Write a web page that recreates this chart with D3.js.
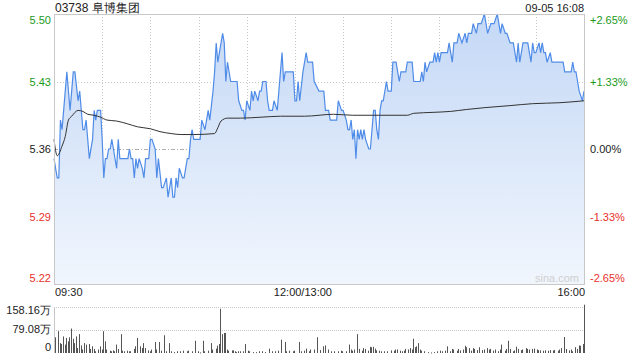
<!DOCTYPE html>
<html>
<head>
<meta charset="utf-8">
<script src="https://cdn.jsdelivr.net/npm/d3@7"></script>
<style>
  body { margin: 0; background: #fff; }
  svg text { font-family: "Liberation Sans", Arial, sans-serif; }
</style>
</head>
<body>
<div id="chart"></div>
<script>
// 03738 阜博集团, 09-05 分时
const stockName = '03738 阜博集团';
const stamp = '09-05 16:08';
const prevClose = 5.36;

// minutes of trading since 09:30 (150 = 12:00/13:00, 330 = 16:00)
const priceMin = [0,2,3,4,5,7,8,10,11,12,13,15,16,17,18,19,20,22,24,25,26,27,29,30,31,32,33,34,35,36,37,39,40,41,46,47,48,49,50,51,52,53,55,56,57,59,60,61,63,64,65,67,68,70,71,73,74,75,76,77,78,80,81,83,84,85,86,87,91,92,94,95,96,97,99,100,101,102,104,105,106,107,108,110,114,115,117,118,119,120,122,123,124,125,127,128,129,130,132,133,134,136,137,139,140,142,143,144,149,150,151,152,153,155,157,158,161,162,165,168,169,171,172,176,177,179,180,182,183,184,185,186,187,188,189,190,191,192,193,194,196,197,198,199,200,201,202,203,204,205,207,208,210,211,213,214,215,216,219,220,223,224,228,229,230,231,232,234,236,237,238,239,240,241,245,246,248,249,251,252,254,256,257,258,260,261,263,264,266,268,269,270,272,274,276,277,278,279,281,282,284,286,287,288,289,290,291,292,295,296,297,298,299,300,302,303,304,305,306,307,309,310,317,318,322,323,324,325,326,327,329,330];
const price = [5.35,5.33,5.33,5.39,5.38,5.42,5.44,5.40,5.42,5.44,5.44,5.41,5.42,5.40,5.38,5.38,5.39,5.35,5.37,5.40,5.39,5.40,5.40,5.37,5.33,5.35,5.35,5.36,5.36,5.37,5.36,5.34,5.37,5.35,5.35,5.36,5.35,5.35,5.33,5.35,5.34,5.35,5.34,5.33,5.35,5.35,5.37,5.37,5.36,5.33,5.35,5.32,5.32,5.33,5.31,5.33,5.31,5.31,5.33,5.32,5.34,5.33,5.33,5.35,5.35,5.37,5.38,5.37,5.37,5.39,5.38,5.39,5.40,5.39,5.42,5.44,5.47,5.45,5.47,5.48,5.47,5.43,5.45,5.43,5.43,5.41,5.40,5.40,5.39,5.41,5.40,5.42,5.41,5.42,5.41,5.42,5.42,5.43,5.43,5.41,5.40,5.40,5.41,5.40,5.42,5.46,5.43,5.44,5.44,5.41,5.41,5.43,5.41,5.44,5.46,5.45,5.45,5.43,5.42,5.42,5.40,5.40,5.39,5.39,5.41,5.40,5.40,5.39,5.38,5.38,5.39,5.37,5.38,5.35,5.38,5.37,5.38,5.37,5.38,5.37,5.36,5.36,5.38,5.40,5.40,5.38,5.37,5.40,5.41,5.41,5.43,5.42,5.42,5.45,5.45,5.44,5.43,5.44,5.44,5.45,5.45,5.43,5.43,5.44,5.43,5.45,5.44,5.45,5.45,5.46,5.45,5.46,5.45,5.46,5.46,5.47,5.45,5.47,5.47,5.48,5.47,5.48,5.47,5.48,5.48,5.49,5.48,5.49,5.49,5.50,5.49,5.48,5.49,5.49,5.50,5.49,5.48,5.49,5.48,5.48,5.47,5.47,5.46,5.45,5.47,5.45,5.46,5.47,5.47,5.46,5.45,5.47,5.46,5.46,5.47,5.46,5.47,5.46,5.46,5.45,5.46,5.45,5.45,5.44,5.44,5.45,5.44,5.44,5.43,5.42,5.41,5.42];

// 均价
const avgMin = [0,2,5,7,9,11,15,18,21,25,29,33,39,46,52,60,66,73,79,87,100,102,104,108,116,129,141,156,174,186,203,220,224,236,247,257,269,284,298,315,330];
const avgPrice = [5.370,5.353,5.363,5.373,5.390,5.394,5.400,5.399,5.396,5.395,5.393,5.390,5.389,5.386,5.383,5.381,5.378,5.376,5.375,5.375,5.376,5.382,5.389,5.392,5.392,5.393,5.394,5.394,5.396,5.395,5.395,5.395,5.397,5.398,5.399,5.401,5.403,5.405,5.407,5.408,5.410];

// 成交量 (万股)
const volMin = [0,2,3,4,5,6,7,8,9,10,11,12,13,14,15,16,17,18,19,21,22,23,24,25,27,28,29,30,31,32,34,35,36,37,38,39,41,42,43,45,46,47,49,50,51,53,54,55,56,58,59,60,62,63,65,66,68,69,71,72,74,76,78,80,82,83,85,87,89,90,92,93,95,97,98,100,101,102,103,104,105,106,107,108,110,111,112,113,114,115,117,118,120,121,123,125,127,129,131,133,135,137,139,141,143,144,146,148,149,152,153,155,156,158,159,161,163,165,167,168,170,172,174,176,178,179,181,183,184,185,186,188,189,191,192,193,195,196,197,198,199,200,202,203,205,207,209,211,212,213,215,216,217,218,220,221,222,223,224,225,226,227,228,230,232,234,236,238,240,241,243,244,246,247,248,250,251,252,254,255,256,258,259,260,261,263,264,266,267,269,270,271,273,274,276,277,278,280,281,282,283,285,286,287,288,290,291,293,294,295,297,298,300,301,302,304,305,307,308,310,311,313,314,315,317,318,320,321,322,324,325,326,327,329,330];
const vol = [54,75,34,31,57,29,52,40,54,84,49,34,57,17,65,26,12,34,29,31,14,23,14,6,12,23,12,75,40,12,8,6,9,6,29,14,65,8,6,8,6,6,14,23,52,23,17,34,17,9,6,12,38,12,38,8,61,6,34,6,3,6,6,8,6,8,6,42,6,2,42,6,8,34,12,15,25,31,152,65,69,69,12,8,9,9,6,3,6,6,6,31,8,6,3,3,6,6,3,15,6,6,8,46,38,6,8,6,8,38,6,8,15,6,12,12,54,10,23,26,12,6,6,6,8,6,6,29,12,8,12,65,14,8,17,14,8,21,20,21,15,9,8,6,6,6,9,8,12,12,8,6,8,14,12,17,12,49,20,23,34,12,8,6,3,2,3,6,8,6,8,23,6,14,12,8,14,9,12,25,20,17,8,17,14,10,20,10,12,17,12,14,8,12,6,12,29,8,14,42,14,6,9,22,14,10,12,17,14,12,14,15,12,10,9,8,9,8,10,9,10,8,12,17,55,14,9,12,6,20,14,26,25,31,166];

const leftTicks = [5.50, 5.43, 5.36, 5.29, 5.22];
const rightTicks = ['+2.65%', '+1.33%', '0.00%', '-1.33%', '-2.65%'];
const timeLabels = ['09:30', '12:00/13:00', '16:00'];
const volTicks = [158.16, 79.08, 0];

const W = 640, H = 360;
const L = 54, R = 584, T = 14, B = 284;
const VT = 307, VB = 353;

const svg = d3.select('#chart').append('svg')
  .attr('width', W).attr('height', H);

const x = d3.scaleLinear().domain([0, 330]).range([L, R]);
const y = d3.scaleLinear().domain([5.22, 5.50]).range([B, T]);
const yv = d3.scaleLinear().domain([0, 158.16]).range([VB, VT]);

const up = '#1a9a1a', down = '#e8302a', flat = '#222';
const tickColor = v => v > prevClose + 1e-9 ? up : (v < prevClose - 1e-9 ? down : flat);

// gradient
const grad = svg.append('defs').append('linearGradient')
  .attr('id', 'fillGrad').attr('gradientUnits', 'userSpaceOnUse')
  .attr('x1', 0).attr('x2', 0).attr('y1', T).attr('y2', B);
grad.append('stop').attr('offset', 0).attr('stop-color', '#c4d8f6');
grad.append('stop').attr('offset', 1).attr('stop-color', '#f1f6fd');

// vertical grid, every 30 min
const vGrid = d3.range(30, 330, 30);
svg.append('g').selectAll('line').data(vGrid).enter().append('line')
  .attr('x1', d => Math.round(x(d)) + 0.5).attr('x2', d => Math.round(x(d)) + 0.5)
  .attr('y1', T).attr('y2', B)
  .attr('stroke', '#c8c8c8').attr('stroke-dasharray', '1,2');

// horizontal grid
svg.append('g').selectAll('line').data(leftTicks.slice(1, -1)).enter().append('line')
  .attr('x1', L).attr('x2', R)
  .attr('y1', d => Math.round(y(d)) + 0.5).attr('y2', d => Math.round(y(d)) + 0.5)
  .attr('stroke', d => d === prevClose ? '#b0b0b0' : '#c8c8c8')
  .attr('stroke-dasharray', d => d === prevClose ? '4,2,1,2' : '1,2');

const pts = priceMin.map((m, i) => [m, price[i]]);

svg.append('path').datum(pts)
  .attr('fill', 'url(#fillGrad)')
  .attr('d', d3.area().x(d => x(d[0])).y0(B).y1(d => y(d[1])));

svg.append('path').datum(pts)
  .attr('fill', 'none').attr('stroke', '#4f8ce8').attr('stroke-width', 1.2)
  .attr('d', d3.line().x(d => x(d[0])).y(d => y(d[1])));

svg.append('path').datum(avgMin.map((m, i) => [m, avgPrice[i]]))
  .attr('fill', 'none').attr('stroke', '#333').attr('stroke-width', 1)
  .attr('d', d3.line().curve(d3.curveMonotoneX).x(d => x(d[0])).y(d => y(d[1])));

// frame
svg.append('rect').attr('x', L + 0.5).attr('y', T + 0.5)
  .attr('width', R - L).attr('height', B - T)
  .attr('fill', 'none').attr('stroke', '#c8c8c8');

// watermark
svg.append('text').attr('x', 579).attr('y', 282).attr('text-anchor', 'end')
  .attr('font-size', 11).attr('fill', '#cfcfcf').text('sina.com');

// left labels
svg.append('g').selectAll('text').data(leftTicks).enter().append('text')
  .attr('x', 51).attr('text-anchor', 'end')
  .attr('y', (d, i) => y(d) + (i === 0 ? 10 : i === leftTicks.length - 1 ? -2 : 4))
  .attr('font-size', 11).attr('fill', tickColor)
  .text(d => d.toFixed(2));

// right labels
svg.append('g').selectAll('text').data(rightTicks).enter().append('text')
  .attr('x', 590)
  .attr('y', (d, i) => y(leftTicks[i]) + (i === 0 ? 10 : i === rightTicks.length - 1 ? -2 : 4))
  .attr('font-size', 11).attr('fill', (d, i) => tickColor(leftTicks[i]))
  .text(d => d);

// title and time
svg.append('text').attr('x', 55).attr('y', 12).attr('font-size', 12)
  .attr('fill', '#222').text(stockName);
svg.append('text').attr('x', R).attr('y', 12).attr('text-anchor', 'end')
  .attr('font-size', 11).attr('fill', '#222').text(stamp);

// time axis labels
const timeX = [L + 1, x(150) + 8, R + 1];
const anchors = ['start', 'middle', 'end'];
svg.append('g').selectAll('text').data(timeLabels).enter().append('text')
  .attr('x', (d, i) => timeX[i]).attr('y', 296)
  .attr('text-anchor', (d, i) => anchors[i])
  .attr('font-size', 11).attr('fill', '#222').text(d => d);

// volume panel
svg.append('g').selectAll('line').data(volTicks.slice(0, 2)).enter().append('line')
  .attr('x1', L).attr('x2', R)
  .attr('y1', d => Math.round(yv(d)) + 0.5).attr('y2', d => Math.round(yv(d)) + 0.5)
  .attr('stroke', '#c8c8c8').attr('stroke-dasharray', '1,1');
svg.append('line').attr('x1', L + 0.5).attr('x2', L + 0.5).attr('y1', VT).attr('y2', VB)
  .attr('stroke', '#c8c8c8');

svg.append('g').selectAll('rect').data(volMin.map((m, i) => [m, vol[i]])).enter().append('rect')
  .attr('x', d => Math.min(Math.round(x(d[0])), R - 1) + 1)
  .attr('width', 1)
  .attr('y', d => yv(d[1]))
  .attr('height', d => Math.max(1, VB - yv(d[1])))
  .attr('fill', '#555');

svg.append('g').selectAll('text').data(volTicks).enter().append('text')
  .attr('x', 51).attr('text-anchor', 'end')
  .attr('y', (d, i) => [314, 333, 351][i])
  .attr('font-size', 11).attr('fill', '#222')
  .text(d => d === 0 ? '0' : d.toFixed(2) + '万');
</script>
</body>
</html>
